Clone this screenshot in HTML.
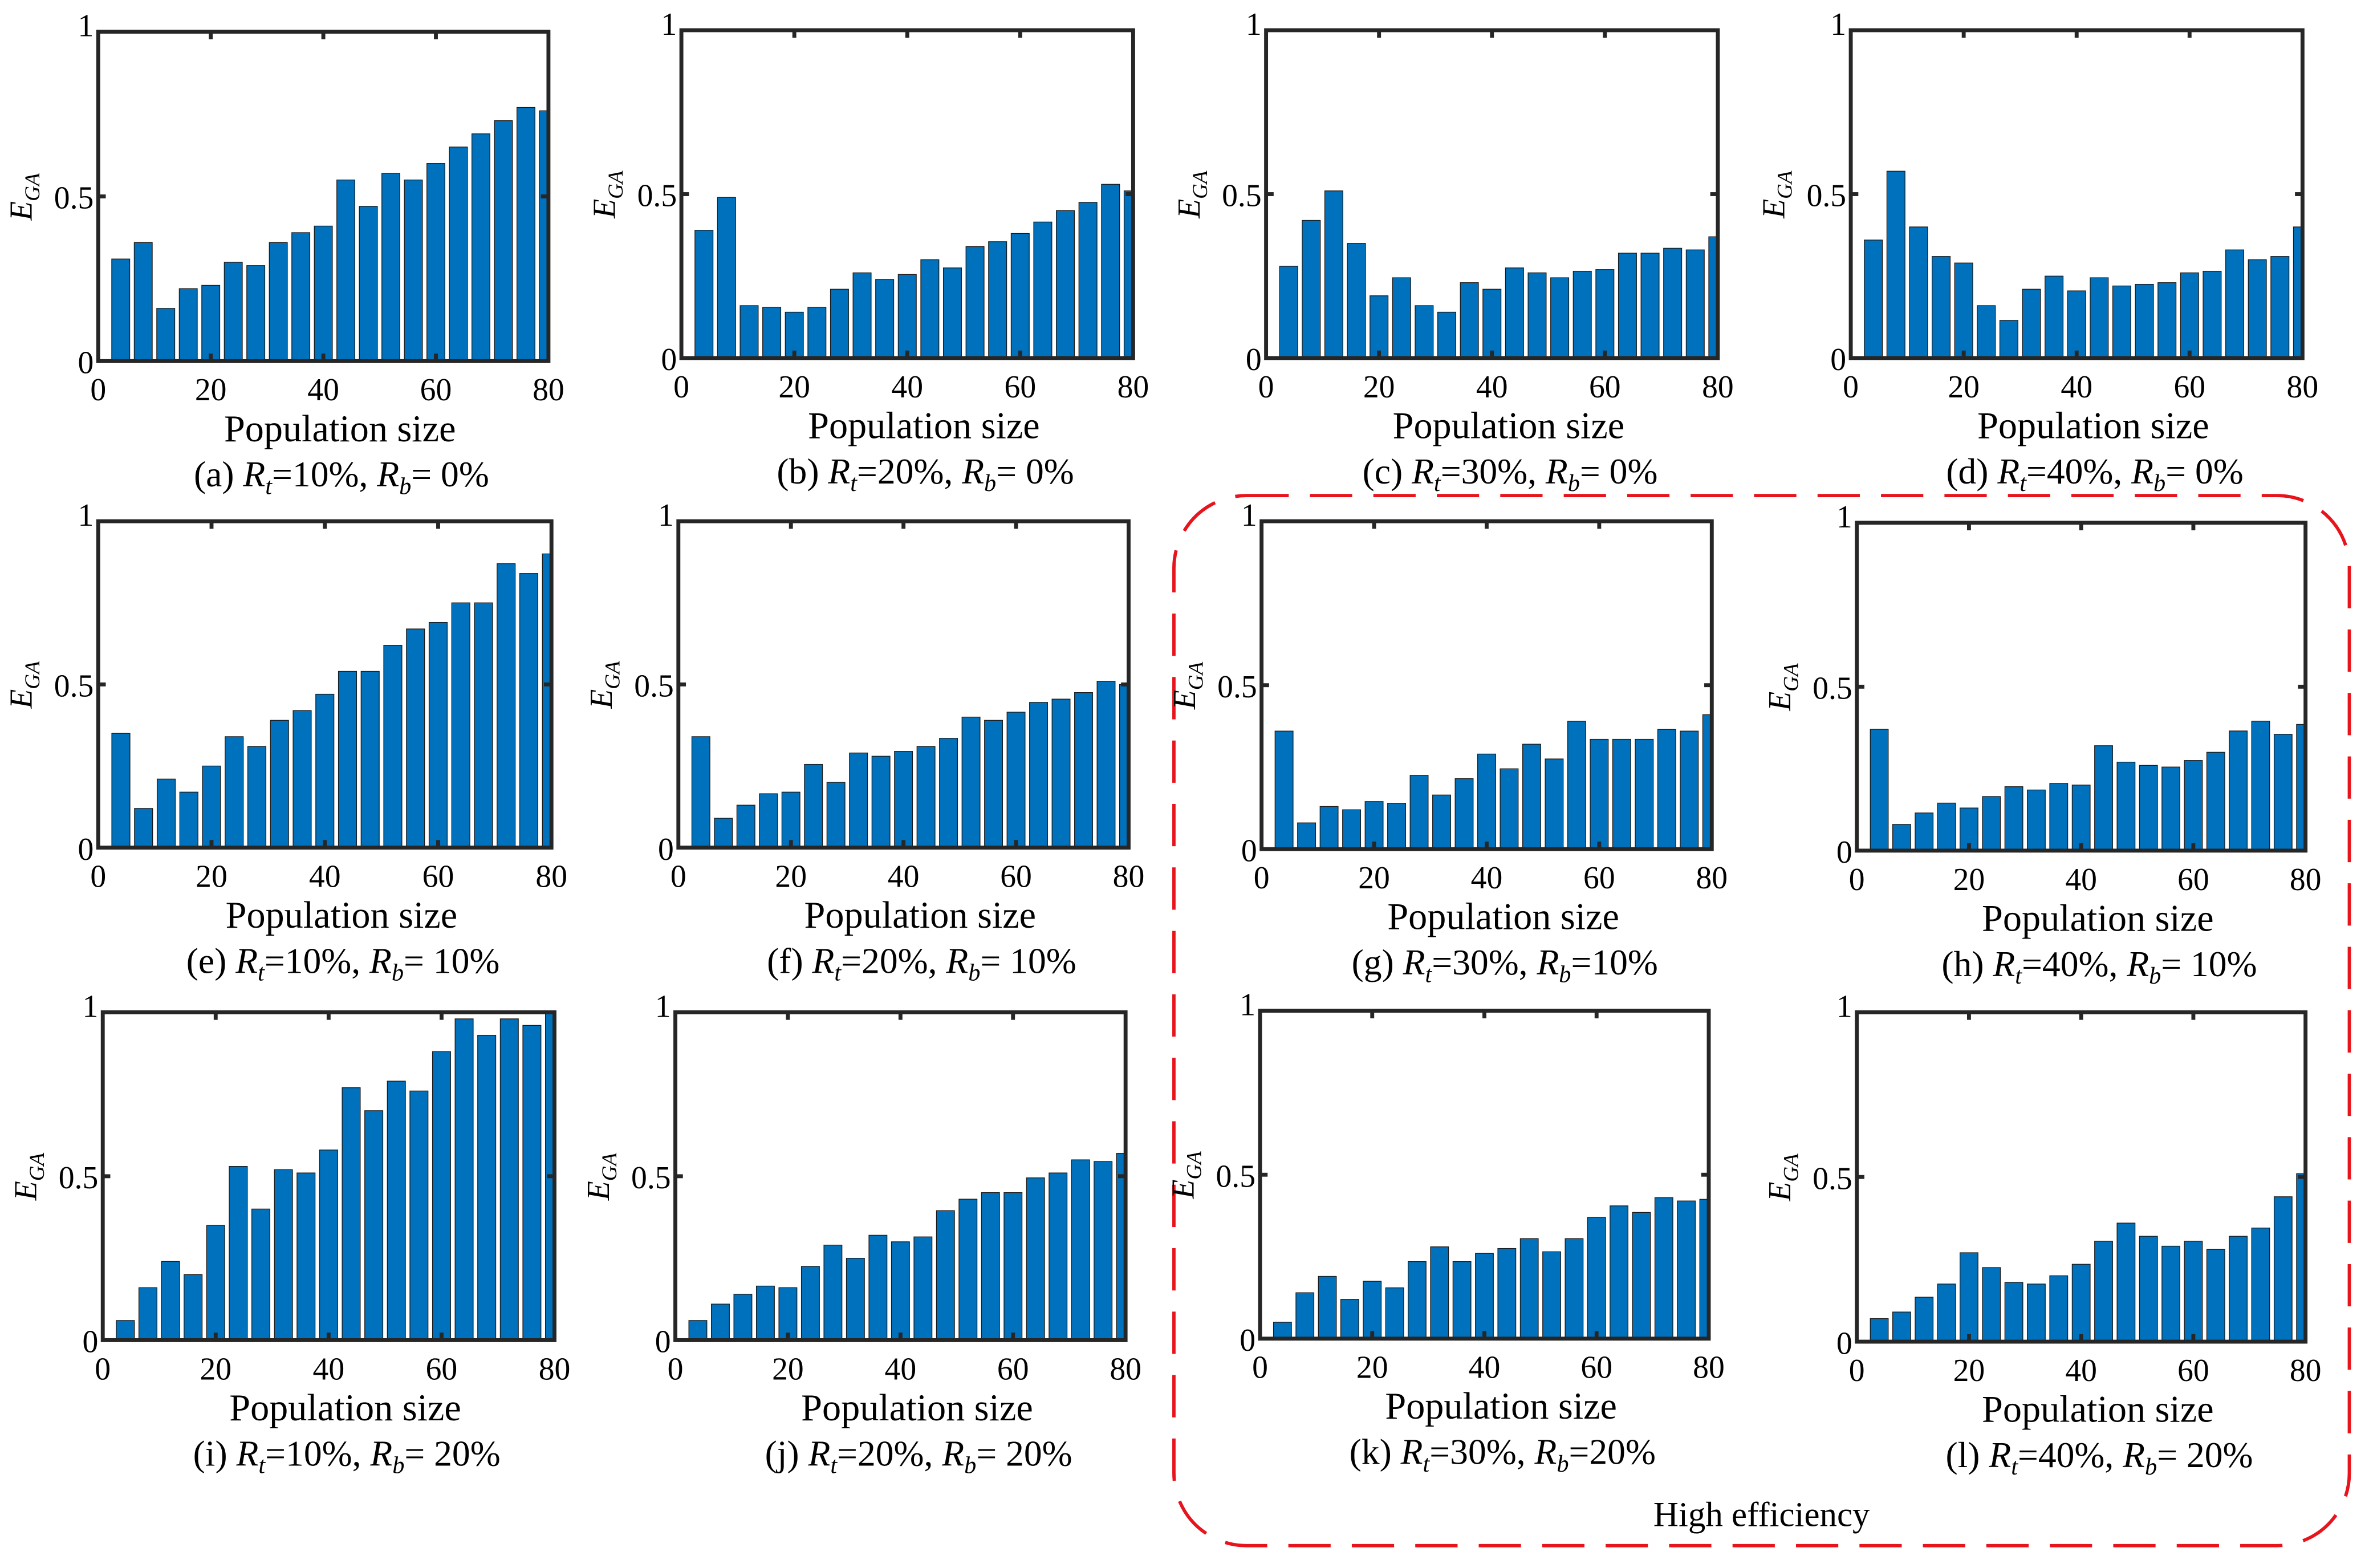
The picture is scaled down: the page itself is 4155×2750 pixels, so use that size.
<!DOCTYPE html>
<html><head><meta charset="utf-8">
<style>
html,body{margin:0;padding:0;background:#fff;}
svg{display:block;font-family:"Liberation Serif","Times New Roman",serif;}
svg text{font-family:"Liberation Serif","Times New Roman",serif;fill:#000;}
</style></head>
<body>
<svg id="fig" xmlns="http://www.w3.org/2000/svg" width="4155" height="2750" viewBox="0 0 1568 1037.8" font-family="Liberation Serif, serif">
<rect x="0" y="0" width="1568" height="1037.8" fill="#fff"/>
<rect x="777" y="328" width="778" height="695" rx="48" ry="48" fill="none" stroke="#e8141c" stroke-width="2.2" stroke-dasharray="28,14"/>
<text x="1166" y="1010" font-size="23" text-anchor="middle" font-family="Liberation Serif, serif">High efficiency</text>
</svg>
<script>
const xCategories = [4,8,12,16,20,24,28,32,36,40,44,48,52,56,60,64,68,72,76,80];
const xTickLabels = ["0","20","40","60","80"];
const yTickLabels = ["0","0.5","1"];
const seriesA = [0.31,0.36,0.16,0.22,0.23,0.30,0.29,0.36,0.39,0.41,0.55,0.47,0.57,0.55,0.60,0.65,0.69,0.73,0.77,0.76];
const seriesB = [0.39,0.49,0.16,0.155,0.14,0.155,0.21,0.26,0.24,0.255,0.30,0.275,0.34,0.355,0.38,0.415,0.45,0.475,0.53,0.51];
const seriesC = [0.28,0.42,0.51,0.35,0.19,0.245,0.16,0.14,0.23,0.21,0.275,0.26,0.245,0.265,0.27,0.32,0.32,0.335,0.33,0.37];
const seriesD = [0.36,0.57,0.40,0.31,0.29,0.16,0.115,0.21,0.25,0.205,0.245,0.22,0.225,0.23,0.26,0.265,0.33,0.30,0.31,0.40];
const seriesE = [0.35,0.12,0.21,0.17,0.25,0.34,0.31,0.39,0.42,0.47,0.54,0.54,0.62,0.67,0.69,0.75,0.75,0.87,0.84,0.90];
const seriesF = [0.34,0.09,0.13,0.165,0.17,0.255,0.20,0.29,0.28,0.295,0.31,0.335,0.40,0.39,0.415,0.445,0.455,0.475,0.51,0.50];
const seriesG = [0.36,0.08,0.13,0.12,0.145,0.14,0.225,0.165,0.215,0.29,0.245,0.32,0.275,0.39,0.335,0.335,0.335,0.365,0.36,0.41];
const seriesH = [0.37,0.08,0.115,0.145,0.13,0.165,0.195,0.185,0.205,0.20,0.32,0.27,0.26,0.255,0.275,0.30,0.365,0.395,0.355,0.385];
const seriesI = [0.06,0.16,0.24,0.20,0.35,0.53,0.40,0.52,0.51,0.58,0.77,0.70,0.79,0.76,0.88,0.98,0.93,0.98,0.96,1.0];
const seriesJ = [0.06,0.11,0.14,0.165,0.16,0.225,0.29,0.25,0.32,0.30,0.315,0.395,0.43,0.45,0.45,0.495,0.51,0.55,0.545,0.57];
const seriesK = [0.05,0.14,0.19,0.12,0.175,0.155,0.235,0.28,0.235,0.26,0.275,0.305,0.265,0.305,0.37,0.405,0.385,0.43,0.42,0.425];
const seriesL = [0.07,0.09,0.135,0.175,0.27,0.225,0.18,0.175,0.20,0.235,0.305,0.36,0.32,0.29,0.305,0.28,0.32,0.345,0.44,0.51];
const panelLetters = ["a","b","c","d","e","f","g","h","i","j","k","l"];
const panelRt = ["10%","20%","30%","40%","10%","20%","30%","40%","10%","20%","30%","40%"];
const panelRb = ["= 0%","= 0%","= 0%","= 0%","= 10%","= 10%","=10%","= 10%","= 20%","= 20%","=20%","= 20%"];

const allSeries=[seriesA,seriesB,seriesC,seriesD,seriesE,seriesF,seriesG,seriesH,seriesI,seriesJ,seriesK,seriesL];
const boxes=[[65,21,363,239],[451,20,750,237],[838,20,1137,237],[1225,20,1524,237],
 [65,345,365,561],[449,345,747,561],[835,345,1133,562],[1229,346,1526,563],
 [68,670,367,887],[447,670,745,887],[834,669,1131,886],[1229,670,1526,888]];
const NS="http://www.w3.org/2000/svg";
const FF="Liberation Serif, serif";
const svg=document.getElementById('fig');
function mk(tag,attrs,parent){const e=document.createElementNS(NS,tag);for(const k in attrs)e.setAttribute(k,attrs[k]);if(tag==='text')e.setAttribute('font-family',FF);(parent||svg).appendChild(e);return e;}
allSeries.forEach((vals,p)=>{
  const [L,T,R,B]=boxes[p];
  const g=mk('g',{});
  
  
  const xs=v=>L+(v/80)*(R-L);
  const ys=v=>B-v*(B-T);
  const cp=mk('clipPath',{id:'cp'+p},g);
  mk('rect',{x:L,y:T,width:R-L,height:B-T},cp);
  const bw=(xs(4)-xs(0))*0.8;
  vals.forEach((v,i)=>{
    const r=mk('rect',{x:xs(xCategories[i])-bw/2,y:ys(v),width:bw,height:ys(0)-ys(v),fill:'#0072BD',stroke:'#1a1a1a','stroke-width':0.5,'clip-path':'url(#cp'+p+')'},g);
    
    
  });
  const ax=mk('rect',{x:L,y:T,width:R-L,height:B-T,fill:'none',stroke:'#262626','stroke-width':2.6},g);
  
  
  xTickLabels.forEach((lab,i)=>{
    const x=xs(+lab);
    if(i>0&&i<4){mk('line',{x1:x,y1:B,x2:x,y2:B-5,stroke:'#262626','stroke-width':2.6},g);mk('line',{x1:x,y1:T,x2:x,y2:T+5,stroke:'#262626','stroke-width':2.6},g);}
    const t=mk('text',{x:x,y:B+26,'font-size':21,'text-anchor':'middle'},g);t.textContent=lab;
    
    
  });
  yTickLabels.forEach(lab=>{
    const y=ys(+lab);
    if(lab==="0.5"){mk('line',{x1:L,y1:y,x2:L+5,y2:y,stroke:'#262626','stroke-width':2.6},g);mk('line',{x1:R,y1:y,x2:R-5,y2:y,stroke:'#262626','stroke-width':2.6},g);}
    const t=mk('text',{x:L-3,y:y+(lab==="1"?3:8),'font-size':21,'text-anchor':'end'},g);t.textContent=lab;
    
    
  });
  const yl=mk('text',{transform:`translate(${L-44},${ys(0.5)+16}) rotate(-90)`,'font-size':21,'font-style':'italic'},g);
  
  
  yl.innerHTML='E<tspan font-size="14" dy="5">GA</tspan>';
  const xl=mk('text',{x:(L+R)/2+11,y:B+53,'font-size':25,'text-anchor':'middle'},g);
  xl.textContent='Population size';
  
  
  const cap=mk('text',{x:(L+R)/2+12,y:B+83,'font-size':24,'text-anchor':'middle'},g);
  
  
  cap.innerHTML=`(${panelLetters[p]}) <tspan font-style="italic">R</tspan><tspan font-style="italic" font-size="16" dy="5">t</tspan><tspan dy="-5">=${panelRt[p]}, </tspan><tspan font-style="italic">R</tspan><tspan font-style="italic" font-size="16" dy="5">b</tspan><tspan dy="-5">${panelRb[p]}</tspan>`;
});
</script>
</body></html>
